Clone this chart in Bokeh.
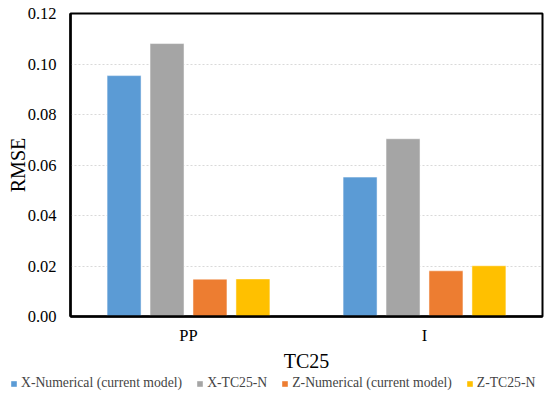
from bokeh.plotting import figure
from bokeh.models import FactorRange, FixedTicker, NumeralTickFormatter, Legend, LegendItem, ColumnDataSource
from bokeh.transform import dodge
from bokeh.embed import file_html
from bokeh.resources import INLINE

categories = ["PP", "I"]
series_names = ["X-Numerical (current model)", "X-TC25-N", "Z-Numerical (current model)", "Z-TC25-N"]
x_numerical = [0.0954, 0.0552]
x_tc25n = [0.1081, 0.0704]
z_numerical = [0.0148, 0.0181]
z_tc25n = [0.0149, 0.0201]
y_ticks = [0.0, 0.02, 0.04, 0.06, 0.08, 0.10, 0.12]

colors = ["#5B9BD5", "#A5A5A5", "#ED7D31", "#FFC000"]
offsets = [-0.273, -0.091, 0.091, 0.273]

src = ColumnDataSource(dict(cat=categories, s0=x_numerical, s1=x_tc25n, s2=z_numerical, s3=z_tc25n))

FONT = "Liberation Serif"

p = figure(x_range=FactorRange(*categories, range_padding=0), y_range=(0, 0.12),
           width=550, height=374, output_backend="svg", toolbar_location=None,
           min_border_left=70, min_border_right=8, min_border_top=13, min_border_bottom=58)

for i in range(4):
    p.vbar(x=dodge("cat", offsets[i], range=p.x_range), top="s%d" % i, width=0.144,
           source=src, fill_color=colors[i], line_color="white", line_width=0.5)

p.outline_line_color = "black"
p.outline_line_width = 2
p.outline_line_alpha = 1

p.xgrid.grid_line_color = None
p.ygrid.grid_line_color = "#d9d9d9"
p.ygrid.grid_line_dash = "2 2"
p.ygrid.grid_line_width = 1

p.yaxis.ticker = FixedTicker(ticks=y_ticks)
p.yaxis.formatter = NumeralTickFormatter(format="0.00")
p.yaxis.axis_label = "RMSE"
p.xaxis.axis_label = "TC25"

for ax in (p.xaxis, p.yaxis):
    ax.axis_line_color = "black"
    ax.axis_line_width = 2.5
    ax.major_tick_line_color = None
    ax.minor_tick_line_color = None
    ax.major_tick_out = 0
    ax.major_tick_in = 0
    ax.minor_tick_out = 0
    ax.minor_tick_in = 0
    ax.major_label_text_font = FONT
    ax.major_label_text_font_size = "16.5px"
    ax.major_label_text_color = "black"
    ax.axis_label_text_font = FONT
    ax.axis_label_text_font_style = "normal"
    ax.axis_label_text_color = "black"
    ax.axis_label_text_font_size = "20px"

p.yaxis.major_label_standoff = 14
p.yaxis.axis_label_standoff = -4
p.xaxis.major_label_standoff = 9
p.xaxis.axis_label_standoff = 2

# legend strip below the chart
lf = figure(width=550, height=21, x_range=FactorRange(*categories), y_range=(1, 2), output_backend="svg",
            toolbar_location=None, min_border=0, x_axis_location=None, y_axis_location=None)
lf.grid.visible = False
lf.outline_line_color = None
proxies = [lf.vbar(x="cat", top="s%d" % i, width=0.1, source=src, fill_color=colors[i], line_color=None)
           for i in range(4)]
items = [LegendItem(label=series_names[i], renderers=[proxies[i]]) for i in range(4)]
legend = Legend(items=items, orientation="horizontal", location=(10, 4),
                padding=0, margin=0, spacing=14, label_standoff=4,
                glyph_width=7, glyph_height=7, label_height=14,
                label_text_font=FONT, label_text_font_size="13.7px",
                border_line_color=None, background_fill_alpha=0)
lf.add_layout(legend, "center")

open("out.html", "w").write(file_html([p, lf], INLINE))
